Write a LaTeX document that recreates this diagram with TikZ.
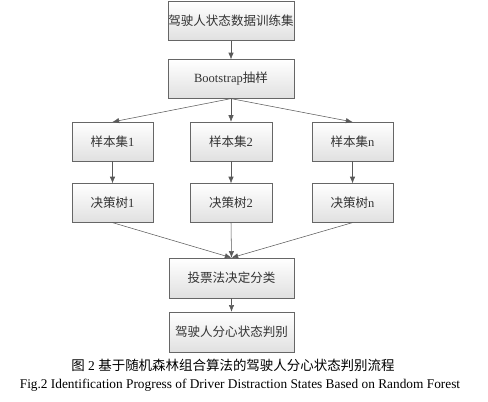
\documentclass[tikz,border=0pt]{standalone}
\usepackage{fontspec}
\usepackage{tikz}
\usetikzlibrary{arrows.meta}
\setmainfont{Liberation Serif}
\newfontfamily\cjk{Noto Sans CJK SC}

\tikzset{
  flowbox/.style={draw=black!60, top color=white, bottom color=black!12,
    minimum height=29, inner sep=0pt, text=black!80,
    font=\fontsize{9.4}{11}\selectfont},
  flowarr/.style={draw=black!65, -{Latex[length=5pt,width=4pt]}}
}

\begin{document}
\begin{tikzpicture}[x=0.75pt,y=-0.75pt]
  \useasboundingbox (0,0) rectangle (488,401);
  % top of the flow
  \node[flowbox,minimum width=126*0.75pt] (train) at (231,21) {\cjk 驾驶人状态数据训练集};
  \node[flowbox,minimum width=126*0.75pt] (boot) at (231,79) {Bootstrap{\cjk 抽样}};
  % sample sets and trees
  \node[flowbox,minimum width=81*0.75pt] (set1) at (112.5,141.5) {{\cjk 样本集}1};
  \node[flowbox,minimum width=82*0.75pt] (set2) at (231,141.5) {{\cjk 样本集}2};
  \node[flowbox,minimum width=81*0.75pt] (setn) at (352.5,141.5) {{\cjk 样本集}n};
  \node[flowbox,minimum width=81*0.75pt] (tree1) at (112.5,203) {{\cjk 决策树}1};
  \node[flowbox,minimum width=82*0.75pt] (tree2) at (231,203) {{\cjk 决策树}2};
  \node[flowbox,minimum width=81*0.75pt] (treen) at (352.5,203) {{\cjk 决策树}n};
  % voting and result
  \node[flowbox,minimum width=125*0.75pt,minimum height=30] (vote) at (231.5,278) {\cjk 投票法决定分类};
  \node[flowbox,minimum width=125*0.75pt,minimum height=30] (judge) at (231.5,332) {\cjk 驾驶人分心状态判别};
  % arrows
  \draw[flowarr] (train) -- (boot);
  \foreach \n in {1,2,n} {
    \draw[flowarr] (boot.south) -- (set\n.north);
    \draw[flowarr] (set\n) -- (tree\n);
    \draw[flowarr] (tree\n.south) -- (vote.north);
  }
  \draw[flowarr] (vote) -- (judge);
  % caption
  \node[font=\fontsize{10.1}{12}\selectfont] (capzh) at (233,365) {{\cjk 图} 2 {\cjk 基于随机森林组合算法的驾驶人分心状态判别流程}};
  \node[font=\fontsize{10}{12}\selectfont] (capen) at (240,385) {Fig.2 Identification Progress of Driver Distraction States Based on Random Forest};
\end{tikzpicture}
\end{document}
